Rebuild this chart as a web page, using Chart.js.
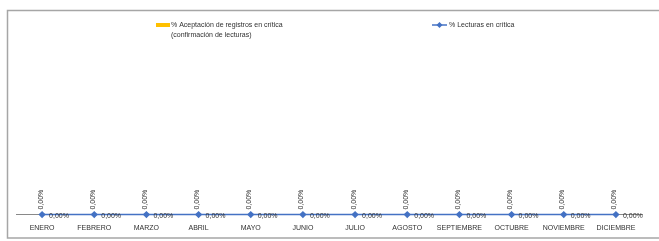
<!DOCTYPE html>
<html>
<head>
<meta charset="utf-8">
<script src="https://cdn.jsdelivr.net/npm/chart.js@4/dist/chart.umd.min.js"></script>
<style>
html,body{margin:0;padding:0;background:#fff;}
#wrap{width:659px;height:241px;position:relative;}
</style>
</head>
<body>
<div id="wrap"><canvas id="c" width="659" height="241"></canvas></div>
<script>
const categories = ["ENERO","FEBRERO","MARZO","ABRIL","MAYO","JUNIO","JULIO","AGOSTO","SEPTIEMBRE","OCTUBRE","NOVIEMBRE","DICIEMBRE"];
const aceptacionValues = [0,0,0,0,0,0,0,0,0,0,0,0];
const lecturasValues = [0,0,0,0,0,0,0,0,0,0,0,0];
const barLabel = ["% Aceptación de registros en crítica", "(confirmación de lecturas)"];
const lineLabel = "% Lecturas en crítica";

const FONT = "'Liberation Sans', 'DejaVu Sans', sans-serif";
const TXT = "#303030";
const BAR_COLOR = "#FFC000";
const LINE_COLOR = "#4472C4";

function fmt(v){ return (v*100).toFixed(2).replace('.', ',') + '%'; }

const framePlugin = {
  id: 'frame',
  beforeDraw(chart){
    const ctx = chart.ctx;
    ctx.save();
    ctx.fillStyle = '#fff';
    ctx.fillRect(0,0,chart.width,chart.height);
    ctx.strokeStyle = '#a6a6a6';
    ctx.lineWidth = 1.5;
    ctx.strokeRect(7.5, 10.5, 700, 227.5);
    ctx.restore();
  },
  afterDraw(chart){
    const ctx = chart.ctx;
    ctx.save();
    ctx.font = "7px " + FONT;
    ctx.fillStyle = TXT;
    ctx.textBaseline = 'middle';
    // bar legend
    ctx.fillStyle = chart.data.datasets[0].backgroundColor;
    ctx.fillRect(156, 23, 14, 4);
    ctx.fillStyle = TXT;
    ctx.textAlign = 'left';
    ctx.fillText(barLabel[0], 171, 25);
    ctx.fillText(barLabel[1], 171, 35);
    // line legend
    const lc = chart.data.datasets[1].borderColor;
    ctx.strokeStyle = lc; ctx.lineWidth = 1.5;
    ctx.beginPath(); ctx.moveTo(432, 25); ctx.lineTo(447, 25); ctx.stroke();
    ctx.fillStyle = lc;
    ctx.beginPath(); ctx.moveTo(439.5, 22); ctx.lineTo(442.5, 25); ctx.lineTo(439.5, 28); ctx.lineTo(436.5, 25); ctx.closePath(); ctx.fill();
    ctx.fillStyle = TXT;
    ctx.fillText(lineLabel, 449, 25);

    // data labels
    const barMeta = chart.getDatasetMeta(0);
    const lineMeta = chart.getDatasetMeta(1);
    barMeta.data.forEach((el, i) => {
      const v = chart.data.datasets[0].data[i];
      ctx.save();
      ctx.translate(el.x - 1.5, el.y - 5);
      ctx.rotate(-Math.PI/2);
      ctx.textAlign = 'left';
      ctx.textBaseline = 'middle';
      ctx.fillText(fmt(v), 0, 0);
      ctx.restore();
    });
    lineMeta.data.forEach((el, i) => {
      const v = chart.data.datasets[1].data[i];
      ctx.textAlign = 'left';
      ctx.textBaseline = 'middle';
      ctx.fillText(fmt(v), el.x + 7, el.y + 1);
    });
    ctx.restore();
  }
};

new Chart(document.getElementById('c'), {
  data: {
    labels: categories,
    datasets: [
      { type: 'bar', label: barLabel.join(' '), data: aceptacionValues, backgroundColor: BAR_COLOR, borderWidth: 0, order: 2 },
      { type: 'line', label: lineLabel, data: lecturasValues, borderColor: LINE_COLOR, backgroundColor: LINE_COLOR,
        borderWidth: 1.5, pointStyle: 'rectRot', pointRadius: 2.6, pointHoverRadius: 2.6, clip: false, order: 1 }
    ]
  },
  options: {
    responsive: false,
    animation: false,
    devicePixelRatio: 1,
    layout: { padding: { left: 16, right: 17, top: 40, bottom: 0 } },
    plugins: { legend: { display: false }, tooltip: { enabled: false } },
    scales: {
      x: {
        grid: { display: false, drawTicks: false },
        border: { display: true, color: '#898989', width: 1 },
        ticks: { font: { size: 7, family: FONT }, color: TXT, padding: 9, maxRotation: 0, autoSkip: false }
      },
      y: { display: false, min: 0, max: 1 }
    }
  },
  plugins: [framePlugin]
});
</script>
</body>
</html>
